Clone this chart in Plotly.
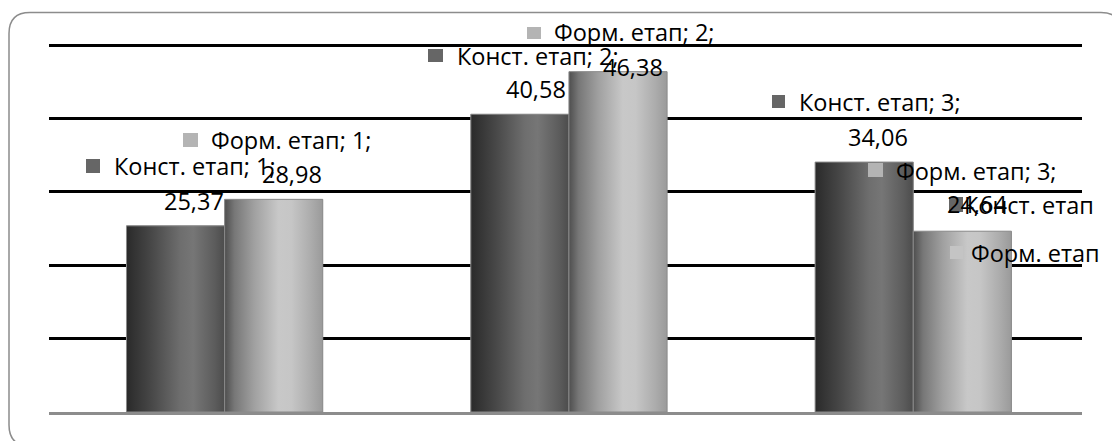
import plotly.graph_objects as go

# --- data -----------------------------------------------------------------
categories = [1, 2, 3]
series_names = ["Конст. етап", "Форм. етап"]
konst_values = [25.37, 40.58, 34.06]
form_values = [28.98, 46.38, 24.64]

# --- geometry / style ------------------------------------------------------
W, H = 1112, 441
PLOT_L, PLOT_R, PLOT_T, PLOT_B = 49, 1082, 44, 412
Y_MAX = 50.15
BAR_W = 0.285
FONT = "Open Sans"
FONT_SIZE = 23.5
TEXT_PAD = 3

series_values = [konst_values, form_values]
key_colors = ["#666666", "#b4b4b4"]
gradients = [
    [[0.0, "#2a2a2a"], [0.25, "#474747"], [0.55, "#6e6e6e"], [0.68, "#767676"],
     [0.9, "#5c5c5c"], [1.0, "#4c4c4c"]],
    [[0.0, "#4e4e4e"], [0.1, "#777777"], [0.3, "#a0a0a0"], [0.55, "#c8c8c8"],
     [0.68, "#c6c6c6"], [0.88, "#acacac"], [1.0, "#9a9a9a"]],
]


def px_x(x):
    return (x - PLOT_L) / (PLOT_R - PLOT_L)


def px_y(y):
    return (PLOT_B - y) / (PLOT_B - PLOT_T)


def fmt(v):
    return f"{v:.2f}".replace(".", ",")


fig = go.Figure()

# plain bars (base layer)
for k, (name, vals) in enumerate(zip(series_names, series_values)):
    fig.add_trace(go.Bar(
        x=list(range(len(categories))), y=vals, name=name,
        width=BAR_W, offset=-BAR_W + k * BAR_W,
        marker=dict(color=gradients[k][3][1], line=dict(width=0)),
        hoverinfo="skip", showlegend=False,
    ))

# cylindrical shading laid over each bar
for k, vals in enumerate(series_values):
    for i, v in enumerate(vals):
        left = i - BAR_W + k * BAR_W
        right = left + BAR_W
        fig.add_trace(go.Scatter(
            x=[left, left, right, right, left], y=[0, v, v, 0, 0],
            mode="lines", fill="toself",
            fillgradient=dict(type="horizontal", colorscale=gradients[k]),
            line=dict(color="#8a8a8a", width=1),
            hoverinfo="skip", showlegend=False,
        ))

# data labels: key square, "series; category;" line and value line
label_layout = {
    # (series, category index): (square box, text left, text mid-y, value centre x, value mid-y)
    (0, 0): ((86, 159, 100, 173), 115, 166, 194, 201),
    (1, 0): ((183, 133, 198, 147), 212, 140, 292, 174),
    (0, 1): ((428, 49, 443, 62), 458, 56, 536, 89),
    (1, 1): ((527, 27, 541, 39), 555, 32, 633, 67),
    (0, 2): ((772, 95, 785, 108), 800, 102, 878, 137),
    (1, 2): ((868, 163, 883, 177), 897, 171, 977, 204),
}

shapes = []
annotations = []


def add_square(box, color):
    x0, y0, x1, y1 = box
    shapes.append(dict(type="rect", xref="paper", yref="paper",
                       x0=px_x(x0), x1=px_x(x1), y0=px_y(y1), y1=px_y(y0),
                       fillcolor=color, line=dict(width=0), layer="above"))


def add_text(text, x, y, anchor):
    shift = -TEXT_PAD if anchor == "left" else 0
    annotations.append(dict(text=text, xref="paper", yref="paper",
                            x=px_x(x), y=px_y(y), xanchor=anchor, yanchor="middle",
                            xshift=shift, showarrow=False,
                            font=dict(family=FONT, size=FONT_SIZE, color="#000000")))


for (k, i), (box, tx, ty, vx, vy) in label_layout.items():
    add_square(box, key_colors[k])
    add_text(f"{series_names[k]}; {categories[i]};", tx, ty, "left")
    add_text(fmt(series_values[k][i]), vx, vy, "center")

# legend entries
legend_layout = [((949, 197, 963, 212), 965, 205), ((950, 246, 963, 259), 972, 253)]
for k, (box, tx, ty) in enumerate(legend_layout):
    add_square(box, key_colors[k] if k == 0 else "#c4c4c4")
    add_text(series_names[k], tx, ty, "left")

# rounded outer frame
fx0, fy0, fx1, fy1, r = 9, 12.5, 1122, 446, 21


def P(x, y):
    return f"{px_x(x):.5f},{px_y(y):.5f}"


frame_path = (
    f"M {P(fx0 + r, fy0)} L {P(fx1 - r, fy0)} Q {P(fx1, fy0)} {P(fx1, fy0 + r)} "
    f"L {P(fx1, fy1 - r)} Q {P(fx1, fy1)} {P(fx1 - r, fy1)} "
    f"L {P(fx0 + r, fy1)} Q {P(fx0, fy1)} {P(fx0, fy1 - r)} "
    f"L {P(fx0, fy0 + r)} Q {P(fx0, fy0)} {P(fx0 + r, fy0)} Z"
)
shapes.append(dict(type="path", xref="paper", yref="paper", path=frame_path,
                   line=dict(color="#8c8c8c", width=1.5), layer="below"))

fig.update_layout(
    width=W, height=H, autosize=False,
    margin=dict(l=PLOT_L, r=W - PLOT_R, t=PLOT_T, b=H - PLOT_B, pad=0),
    paper_bgcolor="white", plot_bgcolor="white",
    barmode="overlay",
    showlegend=False,
    shapes=shapes, annotations=annotations,
    xaxis=dict(range=[-0.51, 2.49], showticklabels=False, ticks="", showgrid=False,
               zeroline=False, showline=True, linecolor="#8c8c8c", linewidth=3,
               fixedrange=True),
    yaxis=dict(range=[0, Y_MAX], dtick=10, showticklabels=False, ticks="",
               showgrid=True, gridcolor="#000000", gridwidth=2.5,
               zeroline=False, showline=False, fixedrange=True),
)

fig.write_html("out.html", config={"displayModeBar": False})
